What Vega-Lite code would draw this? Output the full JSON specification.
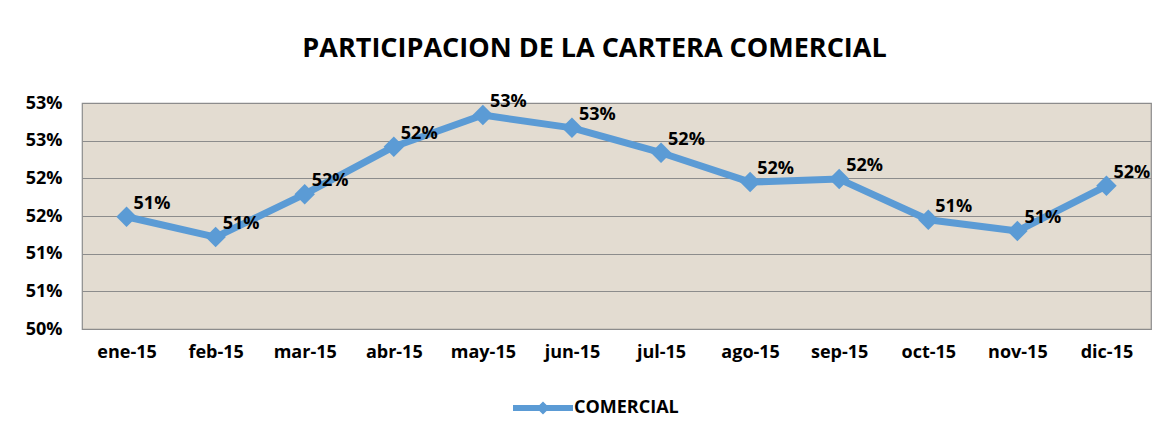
{
  "$schema": "https://vega.github.io/schema/vega-lite/v6.json",
  "width": 1069,
  "height": 226,
  "autosize": "none",
  "padding": {"left": 82, "top": 103, "right": 18, "bottom": 107},
  "background": "white",
  "title": {
    "text": "PARTICIPACION DE LA CARTERA COMERCIAL",
    "font": "Open Sans",
    "fontSize": 27,
    "fontWeight": "bold",
    "color": "#000000",
    "anchor": "middle",
    "offset": 30,
    "dx": -22
  },
  "config": {
    "font": "Open Sans",
    "view": {"fill": "#e3dcd1", "stroke": "#8c8c8c", "strokeWidth": 1.2}
  },
  "data": {
    "values": [
      {"mes": "ene-15", "valor": 0.5149, "serie": "COMERCIAL"},
      {"mes": "feb-15", "valor": 0.5122, "serie": "COMERCIAL"},
      {"mes": "mar-15", "valor": 0.5179, "serie": "COMERCIAL"},
      {"mes": "abr-15", "valor": 0.5242, "serie": "COMERCIAL"},
      {"mes": "may-15", "valor": 0.5284, "serie": "COMERCIAL"},
      {"mes": "jun-15", "valor": 0.5267, "serie": "COMERCIAL"},
      {"mes": "jul-15", "valor": 0.5234, "serie": "COMERCIAL"},
      {"mes": "ago-15", "valor": 0.5195, "serie": "COMERCIAL"},
      {"mes": "sep-15", "valor": 0.5199, "serie": "COMERCIAL"},
      {"mes": "oct-15", "valor": 0.5145, "serie": "COMERCIAL"},
      {"mes": "nov-15", "valor": 0.5130, "serie": "COMERCIAL"},
      {"mes": "dic-15", "valor": 0.5190, "serie": "COMERCIAL"}
    ]
  },
  "encoding": {
    "x": {
      "field": "mes",
      "type": "ordinal",
      "sort": null,
      "scale": {"paddingInner": 0, "paddingOuter": 0},
      "axis": {
        "title": null,
        "labelAngle": 0,
        "ticks": false,
        "domain": false,
        "labelFont": "Open Sans",
        "labelFontSize": 18,
        "labelFontWeight": "bold",
        "labelColor": "#000000",
        "labelPadding": 14
      }
    },
    "y": {
      "field": "valor",
      "type": "quantitative",
      "scale": {"domain": [0.5, 0.53], "nice": false, "zero": false},
      "axis": {
        "title": null,
        "values": [0.5, 0.505, 0.51, 0.515, 0.52, 0.525, 0.53],
        "labelExpr": "format(datum.value + 1e-9, '.0%')",
        "ticks": false,
        "domain": false,
        "grid": true,
        "gridColor": "#8c8c8c",
        "gridWidth": 1.2,
        "labelFont": "Open Sans",
        "labelFontSize": 18,
        "labelFontWeight": "bold",
        "labelColor": "#000000",
        "labelPadding": 20
      }
    }
  },
  "layer": [
    {
      "mark": {"type": "line", "strokeWidth": 7, "strokeJoin": "round"},
      "encoding": {
        "color": {
          "field": "serie",
          "type": "nominal",
          "scale": {"range": ["#5b9bd5"]},
          "legend": {
            "title": null,
            "orient": "none",
            "legendX": 431,
            "legendY": 275,
            "symbolType": "M -1 -0.1 L 1 -0.1 L 1 0.1 L -1 0.1 Z M -0.22 0 L 0 -0.22 L 0.22 0 L 0 0.22 Z",
            "symbolSize": 3600,
            "symbolFillColor": "#5b9bd5",
            "symbolStrokeColor": "#5b9bd5",
            "symbolStrokeWidth": 0,
            "labelFont": "Open Sans",
            "labelFontSize": 18,
            "labelFontWeight": "bold",
            "labelColor": "#000000",
            "labelOffset": 1
          }
        }
      }
    },
    {
      "mark": {"type": "point", "shape": "diamond", "filled": true, "size": 420, "opacity": 1},
      "encoding": {
        "color": {"field": "serie", "type": "nominal"}
      }
    },
    {
      "mark": {
        "type": "text",
        "align": "left",
        "baseline": "middle",
        "dx": 7,
        "dy": -13,
        "font": "Open Sans",
        "fontSize": 18,
        "fontWeight": "bold",
        "color": "#000000"
      },
      "encoding": {
        "text": {"field": "valor", "type": "quantitative", "format": ".0%"}
      }
    }
  ]
}
